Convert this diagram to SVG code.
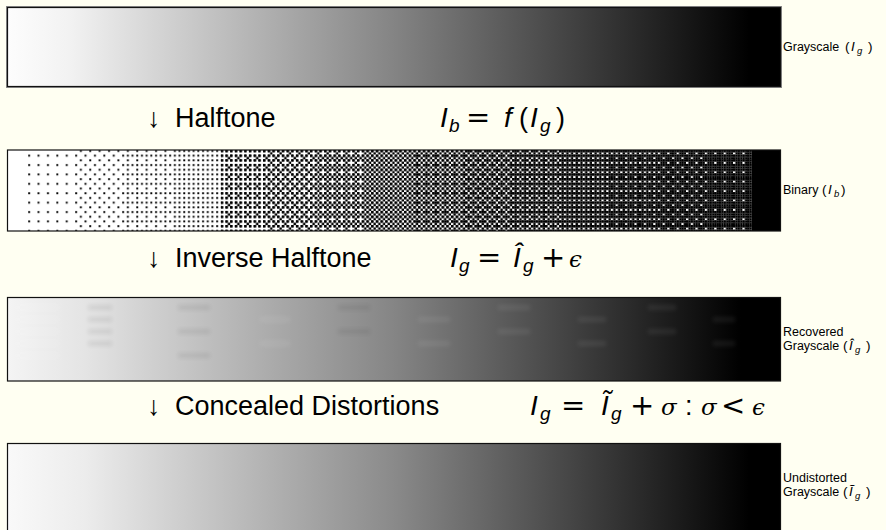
<svg xmlns="http://www.w3.org/2000/svg" width="886" height="530" viewBox="0 0 886 530">
<style>
.bg{fill:#fffff2}
.fo{fill:none;stroke:#8a8a8a;stroke-width:1}
.fi{fill:none;stroke:#111;stroke-width:1.2}
.t{font-family:"Liberation Sans","DejaVu Sans",sans-serif;font-size:27px;fill:#000}
.mi{font-family:"Liberation Sans","DejaVu Sans",sans-serif;font-style:italic;font-size:28px;fill:#000}
.ms{font-family:"Liberation Sans","DejaVu Sans",sans-serif;font-style:italic;font-size:19px;fill:#000}
.op{font-family:"DejaVu Sans",sans-serif;font-size:29px;fill:#000}
.mg{font-family:"DejaVu Serif","Liberation Serif",serif;font-style:italic;font-size:23px;fill:#000}
.l{font-family:"Liberation Sans","DejaVu Sans",sans-serif;font-size:12.5px;fill:#000}
.lm{font-family:"Liberation Sans","DejaVu Sans",sans-serif;font-size:13.5px;fill:#000}
.li{font-family:"Liberation Sans","DejaVu Sans",sans-serif;font-style:italic;font-size:13.5px;fill:#000}
.lsub{font-family:"Liberation Sans","DejaVu Sans",sans-serif;font-style:italic;font-size:9.5px;fill:#000}
.d{fill:#000}
</style>
<defs>
<linearGradient id="g1" x1="8" y1="0" x2="780" y2="0" gradientUnits="userSpaceOnUse">
<stop offset="0" stop-color="#fdfdfd"/><stop offset="0.08" stop-color="#f2f2f2"/><stop offset="0.5" stop-color="#848484"/><stop offset="0.96" stop-color="#000"/><stop offset="1" stop-color="#000"/>
</linearGradient>
<linearGradient id="g3" x1="8" y1="0" x2="780" y2="0" gradientUnits="userSpaceOnUse">
<stop offset="0" stop-color="#f4f4f4"/><stop offset="0.1" stop-color="#e4e4e4"/><stop offset="0.5" stop-color="#858585"/><stop offset="0.95" stop-color="#000"/><stop offset="1" stop-color="#000"/>
</linearGradient>
<linearGradient id="g4" x1="8" y1="0" x2="780" y2="0" gradientUnits="userSpaceOnUse">
<stop offset="0" stop-color="#f9f9f9"/><stop offset="0.1" stop-color="#ececec"/><stop offset="0.5" stop-color="#8a8a8a"/><stop offset="0.96" stop-color="#000"/><stop offset="1" stop-color="#000"/>
</linearGradient>
<filter id="blur" x="-20%" y="-100%" width="140%" height="300%"><feGaussianBlur stdDeviation="2.2"/></filter>
<pattern id="b0" patternUnits="userSpaceOnUse" x="28" y="154.5" width="9.4" height="9.4"><rect class="d" x="0.2" y="0.2" width="1.9" height="1.9"/></pattern>
<pattern id="b1" patternUnits="userSpaceOnUse" x="28" y="154.5" width="9.4" height="9.4"><rect class="d" x="4.9" y="4.9" width="1.9" height="1.9"/></pattern>
<pattern id="b2" patternUnits="userSpaceOnUse" x="28" y="154.5" width="9.4" height="9.4"><rect class="d" x="4.9" y="0.2" width="1.9" height="1.9"/></pattern>
<pattern id="b3" patternUnits="userSpaceOnUse" x="28" y="154.5" width="9.4" height="9.4"><rect class="d" x="0.2" y="4.9" width="1.9" height="1.9"/></pattern>
<pattern id="b4" patternUnits="userSpaceOnUse" x="28" y="154.5" width="9.4" height="9.4"><rect class="d" x="2.35" y="2.35" width="2.5" height="2.5"/></pattern>
<pattern id="b5" patternUnits="userSpaceOnUse" x="28" y="154.5" width="9.4" height="9.4"><rect class="d" x="7.05" y="7.05" width="2.5" height="2.5"/></pattern>
<pattern id="b6" patternUnits="userSpaceOnUse" x="28" y="154.5" width="9.4" height="9.4"><rect class="d" x="7.05" y="2.35" width="2.5" height="2.5"/></pattern>
<pattern id="b7" patternUnits="userSpaceOnUse" x="28" y="154.5" width="9.4" height="9.4"><rect class="d" x="2.35" y="7.05" width="2.5" height="2.5"/></pattern>
<pattern id="b8" patternUnits="userSpaceOnUse" x="28" y="154.5" width="9.4" height="9.4"><rect class="d" x="2.35" y="0" width="2.5" height="2.5"/></pattern>
<pattern id="b9" patternUnits="userSpaceOnUse" x="28" y="154.5" width="9.4" height="9.4"><rect class="d" x="7.05" y="4.7" width="2.5" height="2.5"/></pattern>
<pattern id="b10" patternUnits="userSpaceOnUse" x="28" y="154.5" width="9.4" height="9.4"><rect class="d" x="7.05" y="0" width="2.5" height="2.5"/></pattern>
<pattern id="b11" patternUnits="userSpaceOnUse" x="28" y="154.5" width="9.4" height="9.4"><rect class="d" x="2.35" y="4.7" width="2.5" height="2.5"/></pattern>
<pattern id="b12" patternUnits="userSpaceOnUse" x="28" y="154.5" width="9.4" height="9.4"><rect class="d" x="0" y="2.35" width="2.5" height="2.5"/></pattern>
<pattern id="b13" patternUnits="userSpaceOnUse" x="28" y="154.5" width="9.4" height="9.4"><rect class="d" x="4.7" y="7.05" width="2.5" height="2.5"/></pattern>
<pattern id="b14" patternUnits="userSpaceOnUse" x="28" y="154.5" width="9.4" height="9.4"><rect class="d" x="4.7" y="2.35" width="2.5" height="2.5"/></pattern>
<pattern id="b0b" patternUnits="userSpaceOnUse" x="28" y="154.5" width="9.4" height="9.4"><rect class="d" x="0" y="0" width="2.5" height="2.5"/><rect class="d" x="4.7" y="4.7" width="2.5" height="2.5"/><rect class="d" x="4.7" y="0" width="2.5" height="2.5"/><rect class="d" x="0" y="4.7" width="2.5" height="2.5"/></pattern>
</defs>
<rect class="bg" x="0" y="0" width="886" height="530"/>

<g id="panel-grayscale">
<rect x="7" y="7" width="774" height="80" fill="url(#g1)"/>
<rect class="fo" x="6.5" y="6.5" width="775" height="81"/>
<rect class="fi" x="7.5" y="7.5" width="773" height="79"/>
<text class="l" x="783" y="51">Grayscale</text>
<text class="lm" x="845" y="51">(</text>
<text class="li" x="851" y="51">I</text>
<text class="lsub" x="857" y="54">g</text>
<text class="lm" x="868" y="51">)</text>
</g>

<g id="step-halftone">
<text class="t" x="147" y="127">↓</text>
<text class="t" x="175" y="127">Halftone</text>
<text class="mi" x="440" y="127">I</text>
<text class="ms" x="449" y="132">b</text>
<text class="op" x="466" y="127">=</text>
<text class="mi" x="504" y="127">f</text>
<text class="t" x="519" y="127">(</text>
<text class="mi" x="530" y="127">I</text>
<text class="ms" x="540" y="132">g</text>
<text class="t" x="556" y="127">)</text>
</g>

<g id="panel-binary">
<rect x="8" y="150" width="772" height="81" fill="#fff"/>
<rect x="28" y="150" width="752" height="81" fill="url(#b0)"/>
<rect x="76.3" y="150" width="703.7" height="81" fill="url(#b1)"/>
<rect x="124.5" y="150" width="655.5" height="81" fill="url(#b2)"/>
<rect x="172.8" y="150" width="607.2" height="81" fill="url(#b3)"/>
<rect x="221.1" y="150" width="558.9" height="81" fill="url(#b0b)"/>
<rect x="221.1" y="150" width="558.9" height="81" fill="url(#b4)"/>
<rect x="269.4" y="150" width="510.6" height="81" fill="url(#b5)"/>
<rect x="317.6" y="150" width="462.4" height="81" fill="url(#b6)"/>
<rect x="365.9" y="150" width="414.1" height="81" fill="url(#b7)"/>
<rect x="414.2" y="150" width="365.8" height="81" fill="url(#b8)"/>
<rect x="462.4" y="150" width="317.6" height="81" fill="url(#b9)"/>
<rect x="510.7" y="150" width="269.3" height="81" fill="url(#b10)"/>
<rect x="559" y="150" width="221" height="81" fill="url(#b11)"/>
<rect x="607.2" y="150" width="172.8" height="81" fill="url(#b12)"/>
<rect x="655.5" y="150" width="124.5" height="81" fill="url(#b13)"/>
<rect x="703.8" y="150" width="76.2" height="81" fill="url(#b14)"/>
<rect x="752" y="150" width="28" height="81" fill="#000"/>
<rect class="fi" x="7.5" y="150" width="773" height="81"/>
<text class="l" x="783" y="194">Binary</text>
<text class="lm" x="822" y="194">(</text>
<text class="li" x="828" y="194">I</text>
<text class="lsub" x="834" y="197">b</text>
<text class="lm" x="841" y="194">)</text>
</g>

<g id="step-inverse">
<text class="t" x="147" y="267">↓</text>
<text class="t" x="175" y="267">Inverse Halftone</text>
<text class="mi" x="450" y="267">I</text>
<text class="ms" x="459" y="272">g</text>
<text class="op" x="477" y="267">=</text>
<text class="mi" x="513" y="267">Î</text>
<text class="ms" x="523" y="272">g</text>
<text class="op" x="541" y="267">+</text>
<text class="mg" x="569" y="267">ϵ</text>
</g>

<g id="panel-recovered">
<rect x="8" y="298" width="772" height="83" fill="url(#g3)"/>
<g filter="url(#blur)" opacity="0.07">
<rect x="16" y="305" width="44" height="5" fill="#fff"/>
<rect x="16" y="317" width="44" height="5" fill="#fff"/>
<rect x="16" y="329" width="44" height="5" fill="#fff"/>
<rect x="16" y="341" width="44" height="5" fill="#fff"/>
<rect x="16" y="353" width="44" height="5" fill="#fff"/>
<rect x="88" y="305" width="24" height="5" fill="#000"/>
<rect x="88" y="317" width="24" height="5" fill="#000"/>
<rect x="88" y="329" width="24" height="5" fill="#000"/>
<rect x="88" y="341" width="24" height="5" fill="#000"/>
<rect x="178" y="305" width="32" height="5" fill="#000"/>
<rect x="178" y="329" width="32" height="5" fill="#000"/>
<rect x="178" y="353" width="32" height="5" fill="#000"/>
<rect x="260" y="317" width="30" height="5" fill="#fff"/>
<rect x="260" y="341" width="30" height="5" fill="#fff"/>
<rect x="338" y="305" width="32" height="5" fill="#000"/>
<rect x="338" y="329" width="32" height="5" fill="#000"/>
<rect x="418" y="317" width="32" height="5" fill="#fff"/>
<rect x="418" y="341" width="32" height="5" fill="#fff"/>
<rect x="498" y="305" width="32" height="5" fill="#fff"/>
<rect x="498" y="329" width="32" height="5" fill="#fff"/>
<rect x="578" y="317" width="28" height="5" fill="#fff"/>
<rect x="578" y="341" width="28" height="5" fill="#fff"/>
<rect x="648" y="305" width="28" height="5" fill="#fff"/>
<rect x="648" y="329" width="28" height="5" fill="#fff"/>
<rect x="713" y="317" width="22" height="5" fill="#fff"/>
<rect x="713" y="341" width="22" height="5" fill="#fff"/>
</g>
<rect class="fi" x="7.5" y="297.5" width="773" height="83.5"/>
<text class="l" x="783" y="336">Recovered</text>
<text class="l" x="783" y="350">Grayscale</text>
<text class="lm" x="843" y="350">(</text>
<text class="li" x="849" y="350">Î</text>
<text class="lsub" x="855" y="353">g</text>
<text class="lm" x="866" y="350">)</text>
</g>

<g id="step-concealed">
<text class="t" x="147" y="415">↓</text>
<text class="t" x="175" y="415">Concealed Distortions</text>
<text class="mi" x="530" y="415">I</text>
<text class="ms" x="540" y="420">g</text>
<text class="op" x="561" y="415">=</text>
<text class="mi" x="601" y="415">Ĩ</text>
<text class="ms" x="611" y="420">g</text>
<text class="op" x="630" y="415">+</text>
<text class="mg" x="661" y="415">σ</text>
<text class="t" x="685" y="415">:</text>
<text class="mg" x="701" y="415">σ</text>
<text class="op" x="721" y="415">&lt;</text>
<text class="mg" x="752" y="415">ϵ</text>
</g>

<g id="panel-undistorted">
<rect x="8" y="444" width="772" height="88" fill="url(#g4)"/>
<rect class="fi" x="7.5" y="443.5" width="773" height="95"/>
<text class="l" x="783" y="482">Undistorted</text>
<text class="l" x="783" y="496">Grayscale</text>
<text class="lm" x="843" y="496">(</text>
<text class="li" x="849" y="496">Ĩ</text>
<text class="lsub" x="855" y="499">g</text>
<text class="lm" x="866" y="496">)</text>
</g>
</svg>
